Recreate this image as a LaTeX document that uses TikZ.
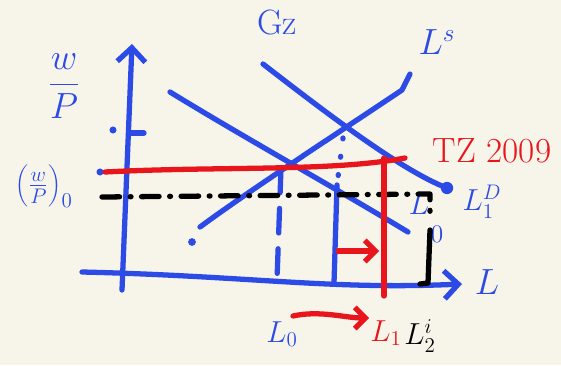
\documentclass[tikz,border=0pt]{standalone}
\usetikzlibrary{arrows.meta}
\definecolor{paper}{RGB}{247,244,233}
\definecolor{bluepen}{RGB}{44,74,230}
\definecolor{redpen}{RGB}{232,22,28}
\begin{document}
\begin{tikzpicture}
[
    x=0.02cm, y=-0.02cm,
    stroke/.style={line width=3pt, line cap=round, line join=round},
    axis/.style={stroke, -{Straight Barb[length=8pt, width=16pt]}},
    shift arrow/.style={stroke, -{Straight Barb[length=6pt, width=12pt]}},
    handtext/.style={font=\fontsize{20}{24}\selectfont, inner sep=0pt},
    smalltext/.style={font=\fontsize{18}{20}\selectfont, inner sep=0pt},
    dashdot line/.style={stroke, dash pattern=on 10pt off 6pt on 0.5pt off 6pt}
]
    \useasboundingbox[fill=paper] (0,0) rectangle (561,365);

    \begin{scope}[color=bluepen]
        \coordinate (origin) at (122,290);
        \coordinate (ytop) at (132,44);
        \coordinate (xleft) at (82,272);
        \coordinate (xright) at (462,284);
        \draw[axis] (origin) -- (ytop);
        \draw[axis] (xleft) .. controls (250,276) and (330,290) .. (xright);
        \draw[stroke] (129,133) -- (144,133);
        \fill (113,130) circle (2pt);
        \fill (100,172) circle (2pt);

        \coordinate (ls0) at (200,227);
        \coordinate (ls1) at (402,90);
        \coordinate (ls2) at (410,74);
        \draw[stroke] (ls0) .. controls (250,190) and (350,125) .. (ls1) -- (ls2);
        \fill (192,242) circle (2.2pt);

        \coordinate (ld0a) at (170,92);
        \coordinate (ld0b) at (408,232);
        \draw[stroke] (ld0a) .. controls (240,135) and (330,185) .. (ld0b);

        \coordinate (ld1a) at (263,64);
        \coordinate (ld1b) at (447,188);
        \draw[stroke] (ld1a) .. controls (320,108) and (400,170) .. (ld1b);
        \fill (ld1b) circle (3.5pt);

        \coordinate (eq0) at (281,168);
        \coordinate (foot0) at (277,280);
        \draw[stroke, dash pattern=on 14pt off 9pt] (eq0) -- (foot0);
        \coordinate (eq1) at (343,138);
        \coordinate (mid1) at (337,185);
        \coordinate (foot1) at (334,283);
        \draw[stroke, dash pattern=on 0.5pt off 10pt] (eq1) -- (mid1);
        \draw[stroke] (mid1) -- (foot1);

        \node[handtext] (wp) at (64,86) {$\displaystyle\frac{w}{P}$};
        \node[smalltext] (wp0) at (44,186) {$\left(\frac{w}{P}\right)_{0}$};
        \node[handtext] (gz) at (277,22) {Gz};
        \node[handtext] (ls) at (437,42) {$L^{s}$};
        \node[smalltext] (ld1) at (482,202) {$L^{D}_{1}$};
        \node[smalltext] (ld0) at (419,204) {$L$};
        \node[smalltext, font=\fontsize{14}{16}\selectfont] (ld0sub) at (437,234) {$0$};
        \node[handtext] (xl) at (487,282) {$L$};
        \node[smalltext] (l0) at (282,334) {$L_0$};
    \end{scope}

    \begin{scope}[color=black]
        \coordinate (wp0tick) at (102,197);
        \coordinate (corner) at (430,194);
        \coordinate (cornerend) at (430,216);
        \coordinate (stem0) at (430,230);
        \coordinate (stem1) at (428,283);
        \coordinate (stemfoot) at (420,284);
        \draw[dashdot line] (wp0tick) -- (corner) -- (cornerend);
        \draw[stroke] (stem0) -- (stem1) -- (stemfoot);
        \node[smalltext] (l2) at (420,336) {$L^{i}_{2}$};
    \end{scope}

    \begin{scope}[color=redpen]
        \coordinate (tz0) at (105,172);
        \coordinate (tz1) at (405,158);
        \draw[stroke] (tz0) .. controls (220,166) and (330,172) .. (tz1);
        \coordinate (l1top) at (384,158);
        \coordinate (l1foot) at (384,296);
        \draw[stroke] (l1top) -- (l1foot);
        \coordinate (shift0) at (338,251);
        \coordinate (shift1) at (379,251);
        \draw[shift arrow] (shift0) -- (shift1);
        \node[handtext] (tz) at (492,151) {TZ 2009};
        \node[smalltext] (l1) at (386,333) {$L_1$};
        \coordinate (move0) at (293,316);
        \coordinate (move1) at (369,318);
        \draw[shift arrow] (move0) .. controls (320,310) and (345,318) .. (move1);
    \end{scope}
\end{tikzpicture}
\end{document}
